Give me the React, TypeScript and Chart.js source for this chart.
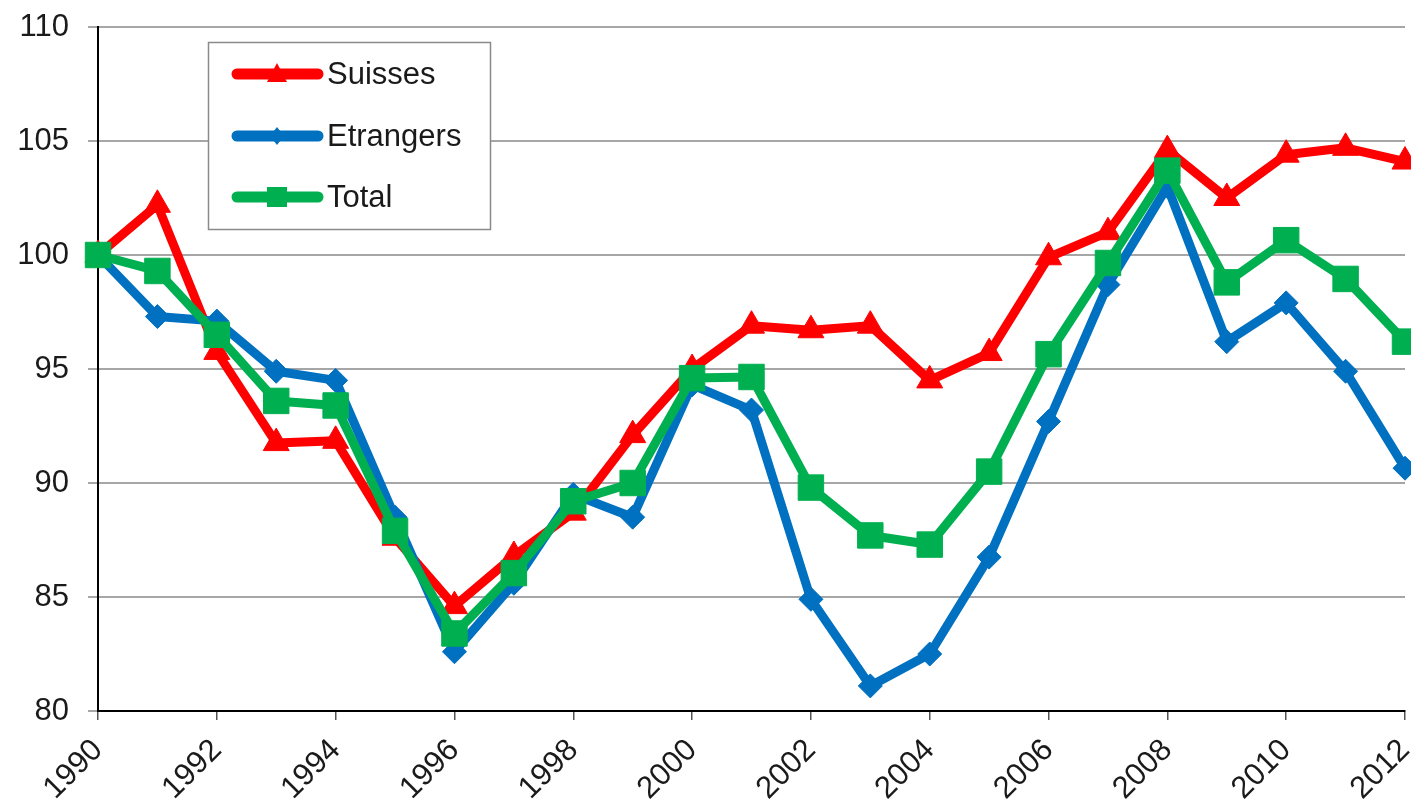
import React, { useEffect, useRef } from "react";
import { Chart, registerables } from "chart.js";

Chart.register(...registerables);

const years = [1990, 1991, 1992, 1993, 1994, 1995, 1996, 1997, 1998, 1999, 2000, 2001, 2002, 2003, 2004, 2005, 2006, 2007, 2008, 2009, 2010, 2011, 2012];
const suisses = [100, 102.2, 95.75, 91.75, 91.85, 87.6, 84.6, 86.8, 88.7, 92.1, 95.0, 96.9, 96.7, 96.9, 94.5, 95.7, 99.9, 101.0, 104.6, 102.5, 104.4, 104.7, 104.1];
const etrangers = [100, 97.3, 97.1, 94.9, 94.5, 88.5, 82.6, 85.6, 89.5, 88.5, 94.3, 93.2, 84.9, 81.1, 82.5, 86.75, 92.7, 98.7, 103.0, 96.2, 97.9, 94.9, 90.65];
const total = [100, 99.3, 96.5, 93.6, 93.4, 87.9, 83.4, 86.05, 89.2, 90.0, 94.6, 94.65, 89.8, 87.7, 87.3, 90.5, 95.65, 99.65, 103.7, 98.8, 100.65, 98.95, 96.2];
const seriesLabels = ["Suisses", "Etrangers", "Total"];
const yTicks = [80, 85, 90, 95, 100, 105, 110];

const RED = "#FF0000";
const BLUE = "#0070C0";
const GREEN = "#00B050";
const FONT = "'Liberation Sans', Arial, sans-serif";

const toPoints = (vals: number[]) => vals.map((v, i) => ({ x: years[i], y: v }));

const zeroPad = (s: any) => {
  s.paddingTop = 0;
  s.paddingBottom = 0;
  s.paddingLeft = 0;
  s.paddingRight = 0;
};

const legendPlugin = {
  id: "insideLegend",
  afterDatasetsDraw(chart: any) {
    const ctx = chart.ctx as CanvasRenderingContext2D;
    ctx.save();
    ctx.fillStyle = "#ffffff";
    ctx.fillRect(208, 42, 282, 187);
    ctx.strokeStyle = "#8a8a8a";
    ctx.lineWidth = 1.5;
    ctx.strokeRect(208.5, 42.5, 282, 187);
    const rows = [
      { label: seriesLabels[0], color: RED, y: 74, shape: "tri" },
      { label: seriesLabels[1], color: BLUE, y: 136, shape: "dia" },
      { label: seriesLabels[2], color: GREEN, y: 197, shape: "sq" },
    ];
    rows.forEach((r) => {
      ctx.strokeStyle = r.color;
      ctx.lineWidth = 11;
      ctx.lineCap = "round";
      ctx.beginPath();
      ctx.moveTo(237, r.y);
      ctx.lineTo(318, r.y);
      ctx.stroke();
      ctx.fillStyle = r.color;
      const cx = 277;
      ctx.beginPath();
      if (r.shape === "tri") {
        ctx.moveTo(cx, r.y - 11);
        ctx.lineTo(cx + 10, r.y + 8);
        ctx.lineTo(cx - 10, r.y + 8);
      } else if (r.shape === "dia") {
        ctx.moveTo(cx, r.y - 9);
        ctx.lineTo(cx + 7, r.y);
        ctx.lineTo(cx, r.y + 9);
        ctx.lineTo(cx - 7, r.y);
      } else {
        ctx.rect(cx - 10, r.y - 10, 20, 20);
      }
      ctx.closePath();
      ctx.fill();
      ctx.fillStyle = "#1a1a1a";
      ctx.font = `31px ${FONT}`;
      ctx.textBaseline = "middle";
      ctx.textAlign = "left";
      ctx.fillText(r.label, 327, r.y + 1);
    });
    ctx.restore();
  },
};

export default function App() {
  const ref = useRef<HTMLCanvasElement | null>(null);
  useEffect(() => {
    if (!ref.current) return;
    const common = { borderWidth: 9, pointBorderWidth: 1, borderJoinStyle: "round", clip: false };
    const chart = new Chart(ref.current, {
      type: "line",
      data: {
        datasets: [
          {
            ...common,
            label: seriesLabels[0],
            data: toPoints(suisses),
            borderColor: RED,
            backgroundColor: RED,
            pointStyle: "triangle",
            pointRadius: 15,
            order: 2,
          },
          {
            ...common,
            label: seriesLabels[1],
            data: toPoints(etrangers),
            borderColor: BLUE,
            backgroundColor: BLUE,
            pointStyle: "rectRot",
            pointRadius: 12,
            order: 1,
          },
          {
            ...common,
            label: seriesLabels[2],
            data: toPoints(total),
            borderColor: GREEN,
            backgroundColor: GREEN,
            pointStyle: "rect",
            pointRadius: 18,
            order: 0,
          },
        ],
      },
      options: {
        animation: false,
        responsive: true,
        maintainAspectRatio: false,
        layout: { padding: { top: 27, right: 0, left: 0, bottom: 0 } },
        plugins: { legend: { display: false }, tooltip: { enabled: false } },
        scales: {
          x: {
            type: "linear",
            min: 1990,
            max: 2012,
            afterFit: (s: any) => {
              s.height = 93;
              zeroPad(s);
            },
            afterBuildTicks: (s: any) => {
              s.ticks = years.filter((y) => y % 2 === 0).map((v) => ({ value: v }));
            },
            ticks: {
              autoSkip: false,
              maxRotation: 45,
              minRotation: 45,
              padding: 12,
              color: "#1a1a1a",
              font: { family: FONT, size: 31 },
              callback: (v: any) => String(v),
            },
            grid: {
              drawOnChartArea: false,
              drawTicks: true,
              tickLength: 9,
              color: "#555555",
              lineWidth: 1.5,
            },
            border: { color: "#000000", width: 2 },
          },
          y: {
            min: 80,
            max: 110,
            afterFit: (s: any) => {
              s.width = 98;
              zeroPad(s);
            },
            afterBuildTicks: (s: any) => {
              s.ticks = yTicks.map((v) => ({ value: v }));
            },
            ticks: {
              padding: 19,
              color: "#1a1a1a",
              font: { family: FONT, size: 31 },
              callback: (v: any) => String(v),
            },
            grid: {
              color: "#a6a6a6",
              lineWidth: 2,
              tickLength: 10,
            },
            border: { color: "#000000", width: 2 },
          },
        },
      },
      plugins: [legendPlugin],
    } as any);
    return () => chart.destroy();
  }, []);
  return (
    <div style={{ position: "absolute", left: 0, top: 0, width: 1411, height: 804, overflow: "hidden", background: "#fff" }}>
      <div style={{ position: "relative", width: 1424, height: 804 }}>
        <canvas ref={ref} />
      </div>
    </div>
  );
}
